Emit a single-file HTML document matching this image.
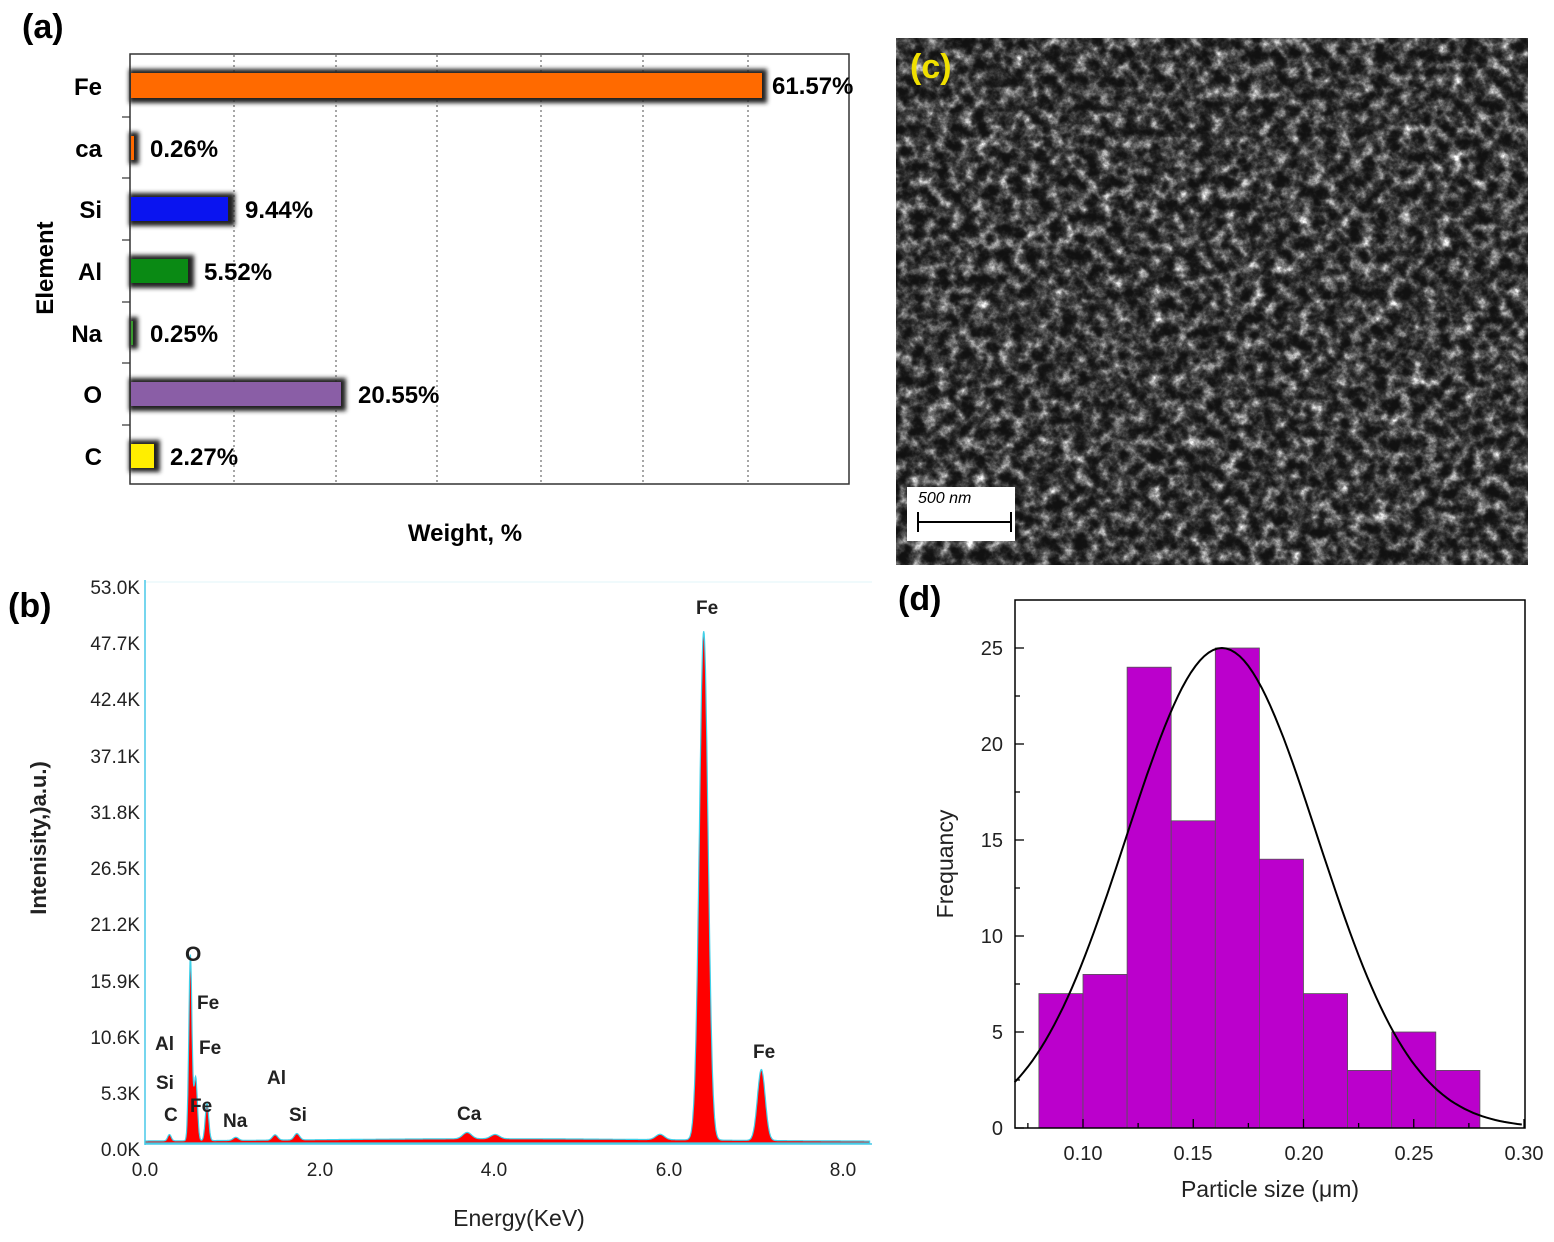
<!DOCTYPE html>
<html><head><meta charset="utf-8"><style>
html,body{margin:0;padding:0;background:#fff}
svg{display:block}
text{font-family:"Liberation Sans",sans-serif}
.b{font-weight:bold}
</style></head><body>
<svg id="s" width="1554" height="1242" viewBox="0 0 1554 1242" xmlns="http://www.w3.org/2000/svg">
<defs>
<filter id="sh" x="-10%" y="-50%" width="120%" height="200%"><feGaussianBlur stdDeviation="2"/></filter>
<filter id="sem" x="0" y="0" width="100%" height="100%" color-interpolation-filters="sRGB">
<feTurbulence type="fractalNoise" baseFrequency="0.08" numOctaves="5" seed="7"/>
<feColorMatrix type="matrix" values="1.4 0 0 0 -0.3  1.4 0 0 0 -0.3  1.4 0 0 0 -0.3  0 0 0 0 1"/>
<feComponentTransfer>
<feFuncR type="gamma" amplitude="1.1" exponent="2.2" offset="0.07"/>
<feFuncG type="gamma" amplitude="1.1" exponent="2.2" offset="0.07"/>
<feFuncB type="gamma" amplitude="1.1" exponent="2.2" offset="0.07"/>
</feComponentTransfer>
</filter>
</defs>

<!-- (a) -->
<text x="22" y="38" font-size="34" class="b">(a)</text>
<g stroke="#777" stroke-width="1.3" stroke-dasharray="2,3">
<line x1="234" y1="55" x2="234" y2="484"/><line x1="336" y1="55" x2="336" y2="484"/>
<line x1="437" y1="55" x2="437" y2="484"/><line x1="541" y1="55" x2="541" y2="484"/>
<line x1="643" y1="55" x2="643" y2="484"/><line x1="748" y1="55" x2="748" y2="484"/>
</g>
<rect x="130" y="54" width="719" height="430" fill="none" stroke="#333" stroke-width="1.5"/>
<g stroke="#333" stroke-width="1.2">
<line x1="122" y1="117" x2="130" y2="117"/><line x1="122" y1="178" x2="130" y2="178"/>
<line x1="122" y1="240" x2="130" y2="240"/><line x1="122" y1="302" x2="130" y2="302"/>
<line x1="122" y1="363" x2="130" y2="363"/><line x1="122" y1="425" x2="130" y2="425"/>
</g>
<g filter="url(#sh)" fill="#222">
<rect x="129" y="69" width="638" height="34"/><rect x="129" y="132" width="10" height="32"/>
<rect x="129" y="193" width="106" height="33"/><rect x="129" y="255" width="65" height="33"/>
<rect x="129" y="317" width="9" height="32"/><rect x="129" y="378" width="217" height="33"/>
<rect x="129" y="440" width="31" height="32"/>
</g>
<rect x="131" y="73" width="631" height="25" fill="#ff6a00"/>
<rect x="131" y="136" width="3" height="24" fill="#ff6a00"/>
<rect x="131" y="197" width="97" height="24" fill="#0a14f0"/>
<rect x="131" y="259" width="57" height="24" fill="#0a8a14"/>
<rect x="131" y="321" width="2" height="24" fill="#3a9a30"/>
<rect x="131" y="382" width="210" height="24" fill="#8a5ea6"/>
<rect x="131" y="444" width="23" height="24" fill="#ffee00"/>
<g font-size="24" class="b" text-anchor="end">
<text x="102" y="95">Fe</text><text x="102" y="157">ca</text><text x="102" y="218">Si</text>
<text x="102" y="280">Al</text><text x="102" y="342">Na</text><text x="102" y="403">O</text><text x="102" y="465">C</text>
</g>
<g font-size="24" class="b">
<text x="772" y="94">61.57%</text><text x="150" y="157">0.26%</text><text x="245" y="218">9.44%</text>
<text x="204" y="280">5.52%</text><text x="150" y="342">0.25%</text><text x="358" y="403">20.55%</text><text x="170" y="465">2.27%</text>
</g>
<text x="465" y="541" font-size="24" class="b" text-anchor="middle">Weight, %</text>
<text transform="translate(53,268) rotate(-90)" font-size="24" class="b" text-anchor="middle">Element</text>

<!-- (b) -->
<text x="8" y="617" font-size="34" class="b">(b)</text>
<line x1="145" y1="582" x2="872" y2="582" stroke="#e0f4f8" stroke-width="1"/>
<line x1="145" y1="580" x2="145" y2="1145" stroke="#48c8e8" stroke-width="1.5"/>
<line x1="145" y1="1144" x2="872" y2="1144" stroke="#48c8e8" stroke-width="1.5"/>
<g font-size="19" text-anchor="end" fill="#222">
<text x="140" y="594">53.0K</text><text x="140" y="650">47.7K</text><text x="140" y="706">42.4K</text>
<text x="140" y="763">37.1K</text><text x="140" y="819">31.8K</text><text x="140" y="875">26.5K</text>
<text x="140" y="931">21.2K</text><text x="140" y="988">15.9K</text><text x="140" y="1044">10.6K</text>
<text x="140" y="1100">5.3K</text><text x="140" y="1156">0.0K</text>
</g>
<g font-size="19" text-anchor="middle" fill="#222">
<text x="145" y="1176">0.0</text><text x="320" y="1176">2.0</text><text x="494" y="1176">4.0</text>
<text x="669" y="1176">6.0</text><text x="843" y="1176">8.0</text>
</g>
<path id="spec" fill="#ff0000" stroke="#40d0e8" stroke-width="1.2"/>
<g font-size="19" class="b" fill="#222">
<text x="696" y="614">Fe</text><text x="753" y="1058">Fe</text><text x="185" y="961" font-size="21">O</text>
<text x="197" y="1009">Fe</text><text x="199" y="1054">Fe</text><text x="155" y="1050">Al</text>
<text x="156" y="1089">Si</text><text x="164" y="1121">C</text><text x="190" y="1112">Fe</text>
<text x="223" y="1127">Na</text><text x="267" y="1084">Al</text><text x="289" y="1121">Si</text><text x="457" y="1120">Ca</text>
</g>
<text x="519" y="1226" font-size="23" text-anchor="middle" fill="#222">Energy(KeV)</text>
<text transform="translate(46,838) rotate(-90)" font-size="22" class="b" text-anchor="middle" fill="#222">Intenisity,)a.u.)</text>

<!-- (c) -->
<rect x="896" y="38" width="632" height="527" fill="#111"/>
<rect x="896" y="38" width="632" height="527" filter="url(#sem)"/>
<text x="910" y="78" font-size="34" class="b" fill="#f0e000">(c)</text>
<rect x="907" y="487" width="108" height="54" fill="#fff"/>
<text x="918" y="503" font-size="16" font-style="italic">500 nm</text>
<g stroke="#000" stroke-width="2"><line x1="918" y1="522" x2="1011" y2="522"/><line x1="918" y1="512" x2="918" y2="532"/><line x1="1011" y1="512" x2="1011" y2="532"/></g>

<!-- (d) -->
<text x="898" y="610" font-size="34" class="b">(d)</text>
<g id="hist" fill="#bb00cc" stroke="#555" stroke-width="0.8"></g>
<rect x="1015" y="600" width="510" height="528" fill="none" stroke="#000" stroke-width="1.5"/>
<g id="ticks" stroke="#000" stroke-width="1.3"></g>
<path id="curve" fill="none" stroke="#000" stroke-width="2"/>
<g font-size="20" text-anchor="end" fill="#222">
<text x="1003" y="1135">0</text><text x="1003" y="1039">5</text><text x="1003" y="943">10</text>
<text x="1003" y="847">15</text><text x="1003" y="751">20</text><text x="1003" y="655">25</text>
</g>
<g font-size="20" text-anchor="middle" fill="#222">
<text x="1083" y="1160">0.10</text><text x="1193" y="1160">0.15</text><text x="1304" y="1160">0.20</text>
<text x="1414" y="1160">0.25</text><text x="1524" y="1160">0.30</text>
</g>
<text x="1270" y="1197" font-size="23" text-anchor="middle" fill="#222">Particle size (μm)</text>
<text transform="translate(953,864) rotate(-90)" font-size="23" text-anchor="middle" fill="#222">Frequancy</text>
</svg>
<script>
(function(){
var ns="http://www.w3.org/2000/svg";
var X=function(e){return 145+e*87.3}, Y=function(v){return 1143-v*10.6};
var peaks=[[0.28,0.6,0.02],[0.52,17.5,0.018],[0.58,6,0.02],[0.71,3.5,0.02],[1.04,0.3,0.03],[1.49,0.5,0.03],[1.74,0.6,0.03],[3.69,0.6,0.05],[4.01,0.4,0.05],[5.9,0.5,0.05],[6.4,48,0.05],[7.06,6.7,0.045]];
var d="M145,1143";
for(var e=0;e<=8.3;e+=0.005){var v=0.15+0.25*Math.exp(-Math.pow((e-4)/3,2));for(var i=0;i<peaks.length;i++){var p=peaks[i];v+=p[1]*Math.exp(-Math.pow(e-p[0],2)/(2*p[2]*p[2]));}d+=" L"+X(e).toFixed(1)+","+Y(v).toFixed(1);}
d+=" L"+X(8.3)+",1143 Z";document.getElementById("spec").setAttribute("d",d);
var h=[7,8,24,16,25,14,7,3,5,3],g=document.getElementById("hist");
var px=function(x){return 1083+(x-0.1)*2205}, py=function(y){return 1128-y*19.2};
for(var i=0;i<h.length;i++){var r=document.createElementNS(ns,"rect");var x0=px(0.08+0.02*i);r.setAttribute("x",x0);r.setAttribute("width",44.1);r.setAttribute("y",py(h[i]));r.setAttribute("height",h[i]*19.2);g.appendChild(r);}
var c="";for(var x=0.069;x<=0.3;x+=0.002){var y=25*Math.exp(-Math.pow(x-0.163,2)/(2*0.00188));c+=(c?" L":"M")+px(x).toFixed(1)+","+py(y).toFixed(1);}
document.getElementById("curve").setAttribute("d",c);
var t=document.getElementById("ticks"),L=function(a,b,c2,d2){var l=document.createElementNS(ns,"line");l.setAttribute("x1",a);l.setAttribute("y1",b);l.setAttribute("x2",c2);l.setAttribute("y2",d2);t.appendChild(l);};
for(var k=0;k<=5;k++){L(1015,py(k*5),1024,py(k*5));if(k<5)L(1015,py(k*5+2.5),1020,py(k*5+2.5));}
for(var k=0;k<=4;k++){var xx=px(0.1+0.05*k);L(xx,1128,xx,1119);}
for(var k=0;k<5;k++){var xx=px(0.075+0.05*k);if(xx>1015)L(xx,1128,xx,1123);}
})();
</script>
</body></html>
